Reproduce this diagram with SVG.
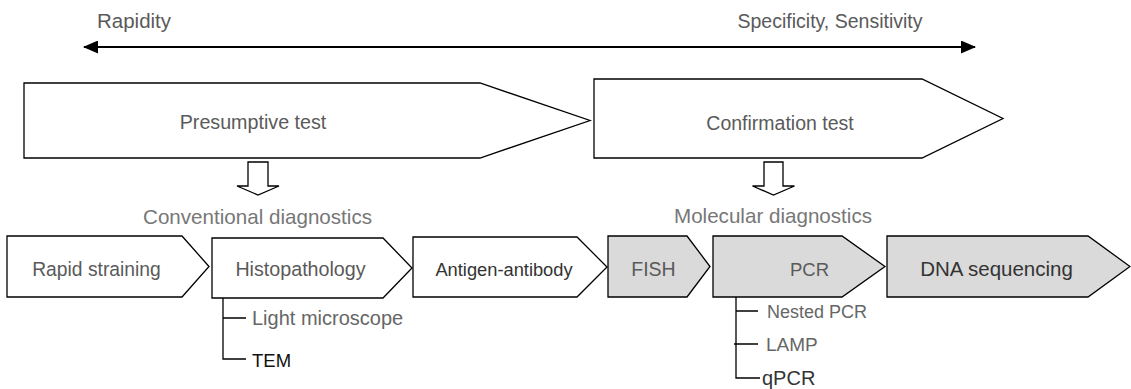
<svg xmlns="http://www.w3.org/2000/svg" width="1131" height="389" viewBox="0 0 1131 389">
<style>
text{font-family:"Liberation Sans",Arial,sans-serif;fill:#5a5a5a}
.box{fill:#fff;stroke:#000;stroke-width:1.3}
.gbox{fill:#dadada;stroke:#000;stroke-width:1.3}
.hollow{fill:#fff;stroke:#000;stroke-width:1.3}
.c{text-anchor:middle}
.sec{font-size:20.6px;fill:#777}
.lbl{font-size:19.5px}
.sub{font-size:19px;fill:#666}
.tree{fill:none;stroke:#000;stroke-width:1.3}
</style>
<defs>
<marker id="ah" viewBox="0 0 15 13" refX="14" refY="6.5" markerWidth="15" markerHeight="13" markerUnits="userSpaceOnUse" orient="auto-start-reverse">
<path d="M0,0 L15,6.5 L0,13 Z" fill="#000"/>
</marker>
</defs>
<text x="134" y="28" class="c" style="font-size:20.5px">Rapidity</text>
<text x="830" y="28" class="c" style="font-size:19.5px">Specificity, Sensitivity</text>
<g id="connectors">
<line x1="84" y1="47" x2="975" y2="47" stroke="#000" stroke-width="2" marker-start="url(#ah)" marker-end="url(#ah)"/>
<path class="hollow" d="M248,162 H268 V186 H279 L258,195 L237,186 H248 Z"/>
<path class="hollow" d="M764,162 H783 V186 H794.5 L773.5,195 L752.5,186 H764 Z"/>
<path class="tree" d="M223,298 V359 H246 M223,318 H246"/>
<path class="tree" d="M736,297 V378 H760 M736,311 H758 M734,344 H758"/>
</g>
<g id="presumptive">
<polygon class="box" points="24,83 480,83 590,120.5 480,158 24,158"/>
<text x="253" y="129" class="c" style="font-size:19.7px">Presumptive test</text>
</g>
<g id="confirmation">
<polygon class="box" points="594,79 922,79 1003,118.5 922,158 594,158"/>
<text x="780" y="130" class="c" style="font-size:19.5px">Confirmation test</text>
</g>
<g id="conventional">
<text x="257.5" y="224" class="c sec">Conventional diagnostics</text>
</g>
<g id="molecular">
<text x="773" y="223" class="c sec">Molecular diagnostics</text>
</g>
<g id="rapid-straining">
<polygon class="box" points="7,236 182,236 209,266.5 182,297 7,297"/>
<text x="96.5" y="276" class="c lbl" style="font-size:19.3px">Rapid straining</text>
</g>
<g id="histopathology">
<polygon class="box" points="212,238 383,238 412,268 383,298 212,298"/>
<text x="300.5" y="276" class="c lbl" style="font-size:19.7px">Histopathology</text>
</g>
<g id="antigen-antibody">
<polygon class="box" points="413,237 577,237 607,267 577,297 413,297"/>
<text x="504" y="276" class="c lbl" style="font-size:18.3px;fill:#333">Antigen-antibody</text>
</g>
<g id="fish">
<polygon class="gbox" points="608,236 687,236 710,266.5 687,297 608,297"/>
<text x="653.5" y="276" class="c lbl" style="font-size:19.5px">FISH</text>
</g>
<g id="pcr">
<polygon class="gbox" points="713,236 842,236 885,266.5 842,297 713,297"/>
<text x="809.5" y="276" class="c lbl" style="font-size:18.5px">PCR</text>
</g>
<g id="dna-sequencing">
<polygon class="gbox" points="887,236 1088,236 1130,266.5 1088,297 887,297"/>
<text x="996.5" y="276" class="c lbl" style="font-size:20.5px;fill:#333">DNA sequencing</text>
</g>
<g id="light-microscope">
<text x="252" y="325" class="sub" style="font-size:20px">Light microscope</text>
</g>
<g id="tem">
<text x="252" y="367" class="sub" style="font-size:18.5px;fill:#111">TEM</text>
</g>
<g id="nested-pcr">
<text x="767" y="317.5" class="sub" style="font-size:18px">Nested PCR</text>
</g>
<g id="lamp">
<text x="766" y="351" class="sub" style="font-size:19px">LAMP</text>
</g>
<g id="qpcr">
<text x="762" y="385" class="sub" style="font-size:20px;fill:#333">qPCR</text>
</g>
</svg>
